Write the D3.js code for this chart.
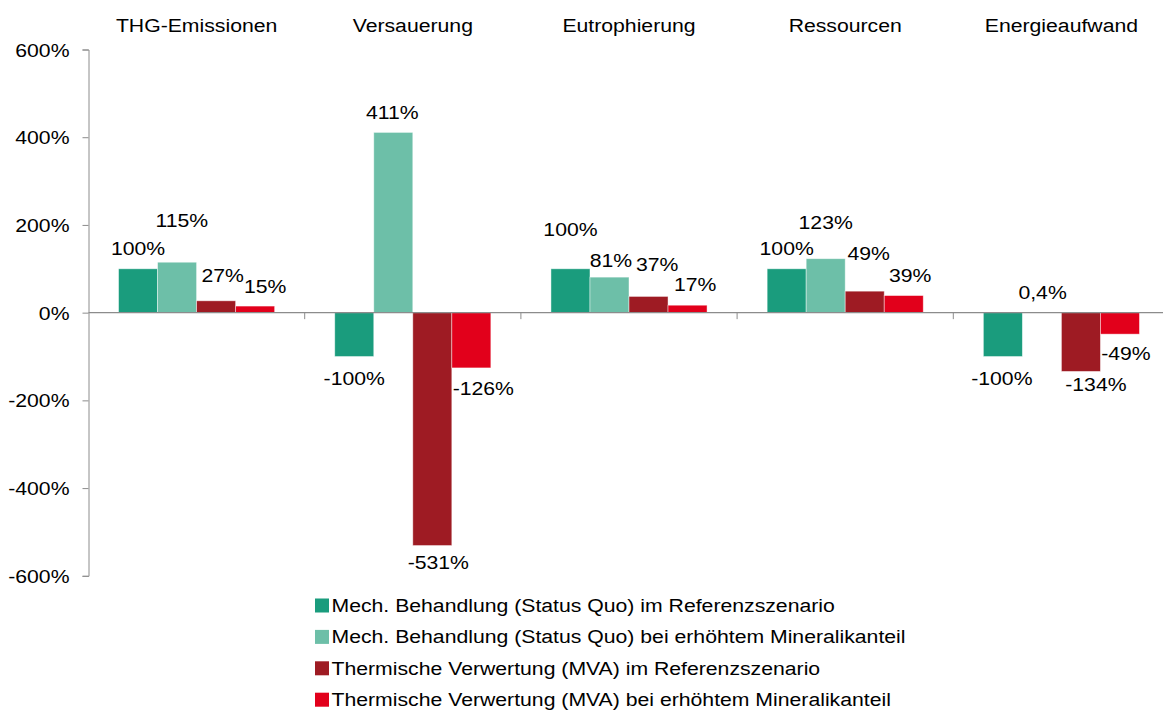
<!DOCTYPE html>
<html>
<head>
<meta charset="utf-8">
<script src="https://cdn.jsdelivr.net/npm/d3@7"></script>
<style>
  html, body { margin: 0; padding: 0; background: #fff; }
  svg { display: block; font-family: Arial, "Liberation Sans", sans-serif; }
</style>
</head>
<body>
<svg id="chart" width="1163" height="711"></svg>
<script>
// Impact categories and scenario series (values in % relative to reference)
const categories = ["THG-Emissionen", "Versauerung", "Eutrophierung", "Ressourcen", "Energieaufwand"];
const seriesNames = [
  "Mech. Behandlung (Status Quo) im Referenzszenario",
  "Mech. Behandlung (Status Quo) bei erhöhtem Mineralikanteil",
  "Thermische Verwertung (MVA) im Referenzszenario",
  "Thermische Verwertung (MVA) bei erhöhtem Mineralikanteil"
];
const mechReferenz = [100, -100, 100, 100, -100];
const mechMineral  = [115, 411, 81, 123, 0.4];
const mvaReferenz  = [27, -531, 37, 49, -134];
const mvaMineral   = [15, -126, 17, 39, -49];
const yTicks = [-600, -400, -200, 0, 200, 400, 600];

const seriesValues = [mechReferenz, mechMineral, mvaReferenz, mvaMineral];
const colors = ["#1a9c7d", "#6dbfa8", "#9e1b23", "#e2001b"];

// Manual label nudges [dx, dy] per series and category
const labelNudge = [
  [[0, 0], [0, 0], [0, -19.5], [0, 0], [-1, 0]],
  [[4.7, -21.5], [-1, 0], [1.4, 3], [0, -16], [0.7, 0]],
  [[6.5, -5], [6, -5], [8.7, -11.5], [4, -17.5], [15, -8]],
  [[10, 0], [12, -1], [7.7, -1], [6.5, 0], [6, -2]]
];

// German number style: decimal comma, plain hyphen for negatives
const fmtLabel = v => {
  const s = Number.isInteger(v) ? String(Math.abs(v)) : Math.abs(v).toFixed(1).replace(".", ",");
  return (v < 0 ? "-" : "") + s + "%";
};

const svg = d3.select("#chart");
const fontSize = 19;
const stretchX = 1.117;   // slightly wide type
const axisColor = "#8c8c8c";

// Place a text element at (x, y) with horizontal stretching
function placeText(sel, fx, fy) {
  sel.attr("x", 0).attr("y", 0)
     .attr("transform", (d, i) => `translate(${fx(d, i)},${fy(d, i)}) scale(${stretchX},1)`)
     .attr("font-size", fontSize)
     .attr("fill", "#000");
}

const x0 = d3.scaleBand().domain(categories).range([88.5, 1169.5]).paddingInner(0).paddingOuter(0);
const x1 = d3.scaleBand().domain(d3.range(seriesNames.length)).range([0, x0.bandwidth()]).paddingInner(0).paddingOuter(0.77);
const y = d3.scaleLinear().domain([-600, 600]).range([575.8, 49.5]);

// Category titles along the top
svg.append("g").selectAll("text").data(categories).join("text")
  .attr("text-anchor", "middle")
  .call(placeText, d => x0(d) + x0.bandwidth() / 2, () => 31.5)
  .text(d => d);

// Y axis line and ticks
const yAxis = svg.append("g").attr("transform", "translate(88.5,0)")
  .call(d3.axisLeft(y).tickValues(yTicks).tickSize(6).tickFormat(""));
yAxis.select(".domain").attr("stroke", axisColor);
yAxis.selectAll(".tick line").attr("stroke", axisColor);

// Y tick labels
svg.append("g").selectAll("text").data(yTicks).join("text")
  .attr("text-anchor", "end")
  .call(placeText, () => 69.5, d => y(d) + 7)
  .text(d => d + "%");

// Bars
const groups = svg.append("g").selectAll("g").data(categories).join("g")
  .attr("transform", d => `translate(${x0(d)},0)`);

const cells = (c, ci) => seriesValues.map((vals, si) => ({ si, ci, v: vals[ci] }));

groups.selectAll("rect")
  .data(cells)
  .join("rect")
  .attr("x", d => x1(d.si))
  .attr("width", x1.bandwidth())
  .attr("y", d => y(Math.max(0, d.v)))
  .attr("height", d => Math.abs(y(d.v) - y(0)))
  .attr("fill", d => colors[d.si])
  .attr("stroke", "#ffffff")
  .attr("stroke-opacity", 0.55)
  .attr("stroke-width", 0.8);

// Zero line with category separators
const zeroY = y(0);
svg.append("line")
  .attr("x1", 88.5).attr("x2", 1169.5)
  .attr("y1", zeroY).attr("y2", zeroY)
  .attr("stroke", axisColor).attr("stroke-width", 1.2);
svg.append("g").selectAll("line").data(categories.slice(1)).join("line")
  .attr("x1", d => x0(d)).attr("x2", d => x0(d))
  .attr("y1", zeroY).attr("y2", zeroY + 6.5)
  .attr("stroke", axisColor);

// Value labels
groups.selectAll("text")
  .data(cells)
  .join("text")
  .attr("text-anchor", "middle")
  .call(placeText,
        d => x1(d.si) + x1.bandwidth() / 2 + labelNudge[d.si][d.ci][0],
        d => (d.v >= 0 ? y(d.v) - 13.5 : y(d.v) + 28) + labelNudge[d.si][d.ci][1])
  .text(d => fmtLabel(d.v));

// Legend
const legend = svg.append("g").attr("transform", "translate(315,598.5)");
const items = legend.selectAll("g").data(seriesNames).join("g")
  .attr("transform", (d, i) => `translate(0,${i * 31.4})`);
items.append("rect").attr("width", 14).attr("height", 14).attr("fill", (d, i) => colors[i]);
items.append("text")
  .call(placeText, () => 16.5, () => 13.3)
  .text(d => d);
</script>
</body>
</html>
